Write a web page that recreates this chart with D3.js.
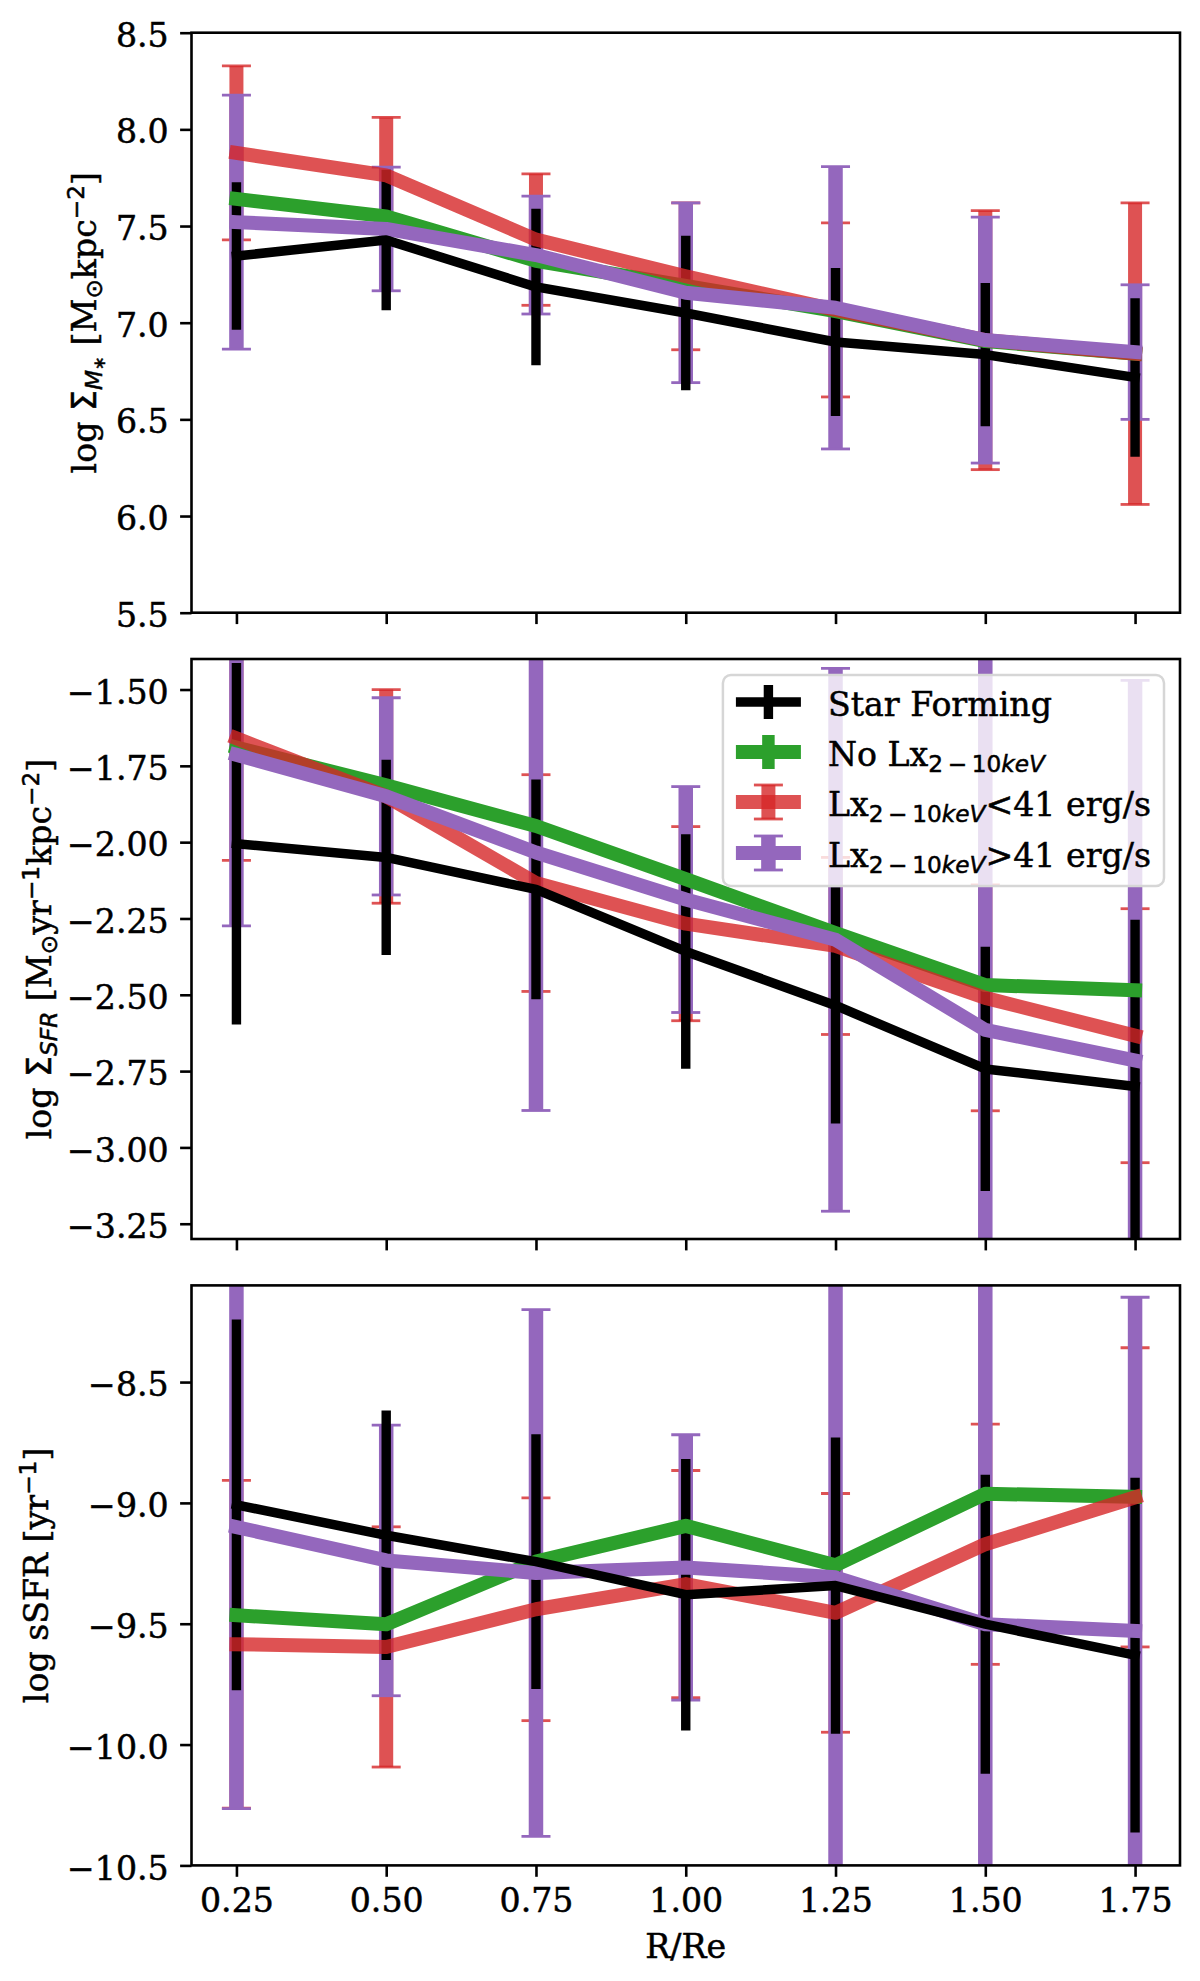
<!DOCTYPE html>
<html>
<head>
<meta charset="utf-8">
<script src="https://cdn.jsdelivr.net/npm/d3@7"></script>
<style>
  body { margin: 0; background: #fff; }
  svg { display: block; }
  text { white-space: pre; stroke: #000; stroke-width: 0.5px; }
</style>
</head>
<body>
<div id="chart"></div>
<script>

// radial bins (R/Re)
const radius = [0.25, 0.50, 0.75, 1.00, 1.25, 1.50, 1.75];

// top panel: log Sigma_M*
const massSF      = [7.345, 7.428, 7.185, 7.05, 6.90, 6.835, 6.717];
const massSFErr   = [0.381, 0.363, 0.405, 0.40, 0.383, 0.37, 0.41];
const massNoLx    = [7.64, 7.55, 7.32, 7.19, 7.06, 6.905, 6.84];
const massNoLxErr = [0.02, 0.02, 0.02, 0.02, 0.02, 0.02, 0.02];
const massLow     = [7.878, 7.762, 7.43, 7.24, 7.066, 6.91, 6.84];
const massLowErr  = [0.45, 0.30, 0.34, 0.38, 0.45, 0.67, 0.78];
const massHigh    = [7.52, 7.485, 7.35, 7.155, 7.077, 6.91, 6.848];
const massHighErr = [0.657, 0.32, 0.305, 0.465, 0.73, 0.636, 0.348];

// middle panel: log Sigma_SFR
const sfrSF      = [-2.005, -2.05, -2.155, -2.358, -2.535, -2.743, -2.80];
const sfrSFErr   = [0.592, 0.32, 0.36, 0.384, 0.387, 0.40, 0.546];
const sfrNoLx    = [-1.69, -1.814, -1.947, -2.121, -2.298, -2.468, -2.485];
const sfrNoLxErr = [0.02, 0.02, 0.02, 0.02, 0.02, 0.02, 0.02];
const sfrLow     = [-1.66, -1.85, -2.134, -2.267, -2.34, -2.51, -2.634];
const sfrLowErr  = [0.40, 0.35, 0.355, 0.318, 0.29, 0.37, 0.416];
const sfrHigh    = [-1.714, -1.85, -2.034, -2.188, -2.32, -2.615, -2.715];
const sfrHighErr = [0.56, 0.323, 0.845, 0.37, 0.889, 1.30, 1.245];

// bottom panel: log sSFR
const ssfrSF      = [-9.008, -9.134, -9.243, -9.38, -9.342, -9.502, -9.63];
const ssfrSFErr   = [0.767, 0.516, 0.527, 0.562, 0.613, 0.619, 0.734];
const ssfrNoLx    = [-9.465, -9.502, -9.243, -9.095, -9.258, -8.962, -8.975];
const ssfrNoLxErr = [0.02, 0.02, 0.02, 0.02, 0.02, 0.02, 0.02];
const ssfrLow     = [-9.585, -9.596, -9.44, -9.336, -9.455, -9.171, -8.977];
const ssfrLowErr  = [0.678, 0.497, 0.461, 0.47, 0.494, 0.497, 0.619];
const ssfrHigh    = [-9.10, -9.238, -9.29, -9.267, -9.308, -9.502, -9.53];
const ssfrHighErr = [1.165, 0.56, 1.09, 0.549, 1.5, 1.5, 1.381];

// ticks
const radiusTicks = [0.25, 0.50, 0.75, 1.00, 1.25, 1.50, 1.75];
const massTicks = [5.5, 6.0, 6.5, 7.0, 7.5, 8.0, 8.5];
const sfrTicks  = [-3.25, -3.00, -2.75, -2.50, -2.25, -2.00, -1.75, -1.50];
const ssfrTicks = [-10.5, -10.0, -9.5, -9.0, -8.5];

const massDomain = [5.5, 8.5];
const sfrDomain  = [-3.30, -1.40];
const ssfrDomain = [-10.5, -8.10];


// layout + style
const svgWidth = 1200, svgHeight = 1981;
const plotLeft = 191.5, plotRight = 1180;
const panelTops = [32.7, 659, 1285.4];
const panelHeight = 580;
const fs = 33.2;
const serif = "'DejaVu Serif', serif";
const sans = "'DejaVu Sans', sans-serif";
const tickLen = 11.4;

const seriesStyle = {
    sf:   {color: "#000000", opacity: 1,   lw: 9.5, elw: 9.4,  cap: 0},
    nolx: {color: "#2ca02c", opacity: 1,   lw: 14,  elw: 12.5, cap: 0},
    low:  {color: "#d62728", opacity: 0.8, lw: 14,  elw: 14,   cap: 14.5},
    high: {color: "#9467bd", opacity: 1,   lw: 14,  elw: 14.5, cap: 14.5}
};
const barOrder = ["low", "nolx", "high", "sf"];
const lineOrder = ["nolx", "low", "high", "sf"];
const legendOrder = ["sf", "nolx", "low", "high"];

// rich text pieces (mathtext-ish)
const lxSub = [
    {t: "Lx"},
    {t: "2\u2009\u2212\u200910", sans: true, s: 0.7, off: 6},
    {t: "keV", sans: true, it: true, s: 0.7, off: 6}
];
const legendLabels = {
    sf:   [{t: "Star Forming"}],
    nolx: [{t: "No "}].concat(lxSub),
    low:  lxSub.concat([{t: "<41 erg/s"}]),
    high: lxSub.concat([{t: ">41 erg/s"}])
};

const panels = [
    {
        domain: massDomain, ticks: massTicks, fmt: ".1f", labelX: 96,
        label: [{t: "log "}, {t: "\u03A3", sans: true}, {t: "M", sans: true, it: true, s: 0.7, off: 6},
                {t: "\u2217", sans: true, s: 0.5, off: 9}, {t: " [M"}, {t: "\u2299", sans: true, s: 0.7, off: 6},
                {t: "kpc"}, {t: "\u22122", sans: true, s: 0.7, off: -12.4}, {t: "]"}],
        series: {
            sf: {y: massSF, err: massSFErr}, nolx: {y: massNoLx, err: massNoLxErr},
            low: {y: massLow, err: massLowErr}, high: {y: massHigh, err: massHighErr}
        }
    },
    {
        domain: sfrDomain, ticks: sfrTicks, fmt: ".2f", labelX: 51, legend: true,
        label: [{t: "log "}, {t: "\u03A3", sans: true}, {t: "SFR", sans: true, it: true, s: 0.7, off: 6},
                {t: " [M"}, {t: "\u2299", sans: true, s: 0.7, off: 6}, {t: "yr"},
                {t: "\u22121", sans: true, s: 0.7, off: -12.4}, {t: "kpc"},
                {t: "\u22122", sans: true, s: 0.7, off: -12.4}, {t: "]"}],
        series: {
            sf: {y: sfrSF, err: sfrSFErr}, nolx: {y: sfrNoLx, err: sfrNoLxErr},
            low: {y: sfrLow, err: sfrLowErr}, high: {y: sfrHigh, err: sfrHighErr}
        }
    },
    {
        domain: ssfrDomain, ticks: ssfrTicks, fmt: ".1f", labelX: 48, xLabels: true,
        label: [{t: "log sSFR [yr"}, {t: "\u22121", sans: true, s: 0.7, off: -12.4}, {t: "]"}],
        series: {
            sf: {y: ssfrSF, err: ssfrSFErr}, nolx: {y: ssfrNoLx, err: ssfrNoLxErr},
            low: {y: ssfrLow, err: ssfrLowErr}, high: {y: ssfrHigh, err: ssfrHighErr}
        }
    }
];


function richText(textSel, parts) {
    let shift = 0;
    parts.forEach(function(p) {
        const off = p.off || 0;
        textSel.append("tspan")
            .attr("dy", off - shift)
            .attr("font-family", p.sans ? sans : serif)
            .attr("font-style", p.it ? "italic" : "normal")
            .attr("font-size", fs * (p.s || 1))
            .text(p.t);
        shift = off;
    });
}

function drawErrorBars(g, xs, ys, s, st) {
    const pts = radius.map((r, j) => ({r: r, lo: s.y[j] - s.err[j], hi: s.y[j] + s.err[j]}));

    g.append("g").selectAll("line")
        .data(pts)
        .join("line")
        .attr("x1", d => xs(d.r)).attr("x2", d => xs(d.r))
        .attr("y1", d => ys(d.lo)).attr("y2", d => ys(d.hi))
        .attr("stroke", st.color)
        .attr("stroke-opacity", st.opacity)
        .attr("stroke-width", st.elw);

    if (st.cap > 0) {
        const caps = pts.flatMap(d => [{r: d.r, v: d.lo}, {r: d.r, v: d.hi}]);
        g.append("g").selectAll("line")
            .data(caps)
            .join("line")
            .attr("x1", d => xs(d.r) - st.cap).attr("x2", d => xs(d.r) + st.cap)
            .attr("y1", d => ys(d.v)).attr("y2", d => ys(d.v))
            .attr("stroke", st.color)
            .attr("stroke-opacity", st.opacity)
            .attr("stroke-width", 2.8);
    }
}

function drawLine(g, xs, ys, s, st) {
    const line = d3.line()
        .x(d => xs(d[0]))
        .y(d => ys(d[1]));

    g.append("path")
        .datum(radius.map((r, j) => [r, s.y[j]]))
        .attr("d", line)
        .attr("fill", "none")
        .attr("stroke", st.color)
        .attr("stroke-opacity", st.opacity)
        .attr("stroke-width", st.lw)
        .attr("stroke-linejoin", "round")
        .attr("stroke-linecap", "square");
}

function drawLegend(svg, right, top) {
    const lg = svg.append("g");
    const box = lg.append("rect");
    const rowY = [27, 77, 127, 178];
    const hx0 = 13, hx1 = 78, textX = 105;
    const items = lg.append("g");

    legendOrder.forEach(function(key, i) {
        const st = seriesStyle[key];
        const row = items.append("g").attr("transform", `translate(0, ${rowY[i]})`);
        const cx = (hx0 + hx1) / 2;

        // vertical error bar + caps, then the line on top
        row.append("line")
            .attr("x1", cx).attr("x2", cx).attr("y1", -17).attr("y2", 17)
            .attr("stroke", st.color).attr("stroke-opacity", st.opacity).attr("stroke-width", st.elw);
        if (st.cap > 0) {
            [-17, 17].forEach(function(v) {
                row.append("line")
                    .attr("x1", cx - st.cap).attr("x2", cx + st.cap).attr("y1", v).attr("y2", v)
                    .attr("stroke", st.color).attr("stroke-opacity", st.opacity).attr("stroke-width", 2.8);
            });
        }
        row.append("line")
            .attr("x1", hx0 + st.lw / 2).attr("x2", hx1 - st.lw / 2).attr("y1", 0).attr("y2", 0)
            .attr("stroke", st.color).attr("stroke-opacity", st.opacity).attr("stroke-width", st.lw)
            .attr("stroke-linecap", "square");

        const txt = row.append("text")
            .attr("x", textX)
            .attr("y", 13.5)
            .attr("fill", "#000");
        richText(txt, legendLabels[key]);
    });

    const textW = d3.max(items.selectAll("text").nodes(), n => n.getBBox().width);
    const w = textX + textW + 13;
    const h = 211;
    box.attr("x", 0).attr("y", 0).attr("width", w).attr("height", h)
        .attr("rx", 8).attr("ry", 8)
        .attr("fill", "#ffffff").attr("fill-opacity", 0.8)
        .attr("stroke", "#d6d6d6").attr("stroke-width", 2.5);
    lg.attr("transform", `translate(${right - w}, ${top})`);
}


function makeChart() {

    const svg = d3.select("#chart")
        .append("svg")
        .attr("width", svgWidth)
        .attr("height", svgHeight);

    svg.append("rect").attr("width", svgWidth).attr("height", svgHeight).attr("fill", "#fff");
    const defs = svg.append("defs");

    // x scale shared by all panels, 5% margins like matplotlib
    const pad = 0.05 * (d3.max(radius) - d3.min(radius));
    const xScale = d3.scaleLinear()
        .domain([d3.min(radius) - pad, d3.max(radius) + pad])
        .range([plotLeft, plotRight]);

    panels.forEach(function(p, i) {
        const top = panelTops[i];
        const bottom = top + panelHeight;

        const yScale = d3.scaleLinear()
            .domain(p.domain)
            .range([bottom, top]);

        defs.append("clipPath").attr("id", `clip${i}`)
            .append("rect")
            .attr("x", plotLeft).attr("y", top)
            .attr("width", plotRight - plotLeft).attr("height", panelHeight);

        const plot = svg.append("g").attr("clip-path", `url(#clip${i})`);

        barOrder.forEach(key => drawErrorBars(plot, xScale, yScale, p.series[key], seriesStyle[key]));
        lineOrder.forEach(key => drawLine(plot, xScale, yScale, p.series[key], seriesStyle[key]));

        // frame
        svg.append("rect")
            .attr("x", plotLeft).attr("y", top)
            .attr("width", plotRight - plotLeft).attr("height", panelHeight)
            .attr("fill", "none").attr("stroke", "#000").attr("stroke-width", 2.6);

        // axes
        const yAxis = d3.axisLeft(yScale)
            .tickValues(p.ticks)
            .tickFormat(d3.format(p.fmt))
            .tickSize(tickLen)
            .tickPadding(tickLen);

        const yg = svg.append("g")
            .attr("transform", `translate(${plotLeft}, 0)`)
            .call(yAxis);
        yg.select(".domain").remove();
        yg.attr("font-family", serif).attr("font-size", fs);
        yg.selectAll(".tick line").attr("stroke", "#000").attr("stroke-width", 2.6);
        yg.selectAll(".tick text").attr("fill", "#000").attr("dy", "0.41em");

        const xAxis = d3.axisBottom(xScale)
            .tickValues(radiusTicks)
            .tickFormat(p.xLabels ? d3.format(".2f") : "")
            .tickSize(tickLen)
            .tickPadding(tickLen);

        const xg = svg.append("g")
            .attr("transform", `translate(0, ${bottom})`)
            .call(xAxis);
        xg.select(".domain").remove();
        xg.attr("font-family", serif).attr("font-size", fs);
        xg.selectAll(".tick line").attr("stroke", "#000").attr("stroke-width", 2.6);
        xg.selectAll(".tick text").attr("fill", "#000");

        // y label
        const yl = svg.append("text")
            .attr("transform", `translate(${p.labelX}, ${(top + bottom) / 2}) rotate(-90)`)
            .attr("text-anchor", "middle")
            .attr("fill", "#000");
        richText(yl, p.label);

        if (p.xLabels) {
            svg.append("text")
                .attr("x", (plotLeft + plotRight) / 2)
                .attr("y", 1958)
                .attr("text-anchor", "middle")
                .attr("font-family", serif)
                .attr("font-size", fs)
                .attr("fill", "#000")
                .text("R/Re");
        }

        if (p.legend) {
            drawLegend(svg, plotRight - 16, top + 16);
        }
    });
}

makeChart();
</script>
</body>
</html>
